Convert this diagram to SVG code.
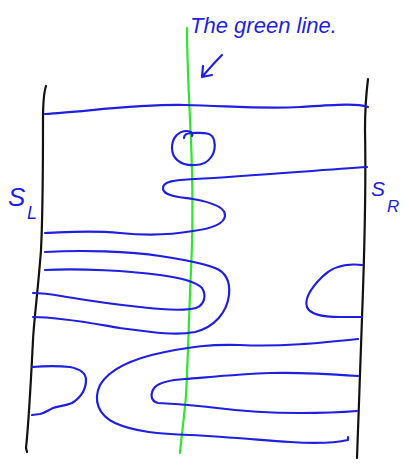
<svg xmlns="http://www.w3.org/2000/svg" width="409" height="465" viewBox="0 0 409 465">
<style>
.wall{fill:none;stroke:#111;stroke-width:2.2;stroke-linecap:round;stroke-linejoin:round}
.blue{fill:none;stroke:#1f1fe0;stroke-width:2.2;stroke-linecap:round;stroke-linejoin:round}
.green{fill:none;stroke:#2ee62e;stroke-width:2.2;stroke-linecap:round}
.lbl{font-family:"Liberation Sans",Arial,sans-serif;font-style:italic;fill:#1f1fe0}
</style>
<rect width="409" height="465" fill="#fff"/>
<g id="walls">
<path class="wall" d="M46,86 C44,92 43,102 43,120 C43,170 43,210 41,250 C38,290 34,320 33,340 C31,380 29,420 26,448 L27,452"/>
<path class="wall" d="M368,79 C366,95 365,110 365,130 C366,180 365,230 363,290 C361,350 359,400 357,458"/>
</g>
<g id="green-line">
<path class="green" d="M187,28 C187,60 189,100 191,140 C193,190 193,230 191,270 C189,310 188,360 186,395 C184,420 181,440 180,453"/>
</g>
<g id="curves">
<path class="blue" d="M45,114 C90,111 140,104 185,105 C230,106 260,109 300,107 C335,105 355,103 368,107"/>
<path class="blue" d="M184,138 C184,134 188,133 192,133 C200,133 212,131 214,140 C217,152 210,165 195,165 C180,166 172,158 172,148 C172,138 178,131 187,131 C191,131 193,133 192,136"/>
<path class="blue" d="M367,167 C320,170 250,176 195,179 C175,180 162,181 163,189 C164,196 180,197 193,199 C210,202 226,207 225,216 C224,225 208,229 193,231 C170,235 150,236 120,233 C90,230 70,232 45,233"/>
<path class="blue" d="M45,252 C80,250 130,251 160,256 C180,259 200,262 215,268 C228,273 230,285 229,295 C227,312 215,327 195,332 C175,336 150,332 120,328 C90,323 60,317 33,317"/>
<path class="blue" d="M45,270 C80,268 130,271 160,275 C180,278 195,281 202,288 C207,296 204,305 196,308 C185,311 165,310 140,307 C110,304 85,300 67,297 C55,295 45,293 33,293"/>
<path class="blue" d="M362,265 C345,263 332,267 322,277 C312,287 304,298 307,307 C310,315 325,317 340,317 L362,317"/>
<path class="blue" d="M358,339 C320,343 280,347 240,345 C210,344 190,347 165,352 C135,358 110,368 100,385 C93,400 98,415 115,423 C135,432 160,434 190,435 C230,437 260,440 290,442 C320,444 335,443 348,440 L348,437"/>
<path class="blue" d="M358,376 C330,374 300,372 270,373 C240,374 210,377 185,379 C170,380 160,382 155,387 C150,393 150,401 158,403 C175,404 195,405 217,408 C240,411 270,413 300,413 C330,413 345,412 357,411"/>
<path class="blue" d="M32,367 C45,366 60,366 70,367 C80,369 86,373 86,380 C86,390 80,398 72,403 C65,406 58,406 53,408 C47,411 45,413 40,414 L32,415"/>
</g>
<g id="annotation">
<text class="lbl" x="190" y="33" font-size="22" textLength="147" lengthAdjust="spacingAndGlyphs">The green line.</text>
<path class="blue" d="M222,55 C215,62 208,70 202,77 M203,66 L202,77 L212,75"/>
</g>
<g id="label-SL">
<text class="lbl" x="8" y="206" font-size="26">S</text>
<text class="lbl" x="27" y="219" font-size="18">L</text>
</g>
<g id="label-SR">
<text class="lbl" x="371" y="196" font-size="21">S</text>
<text class="lbl" x="387" y="212" font-size="17">R</text>
</g>
</svg>
